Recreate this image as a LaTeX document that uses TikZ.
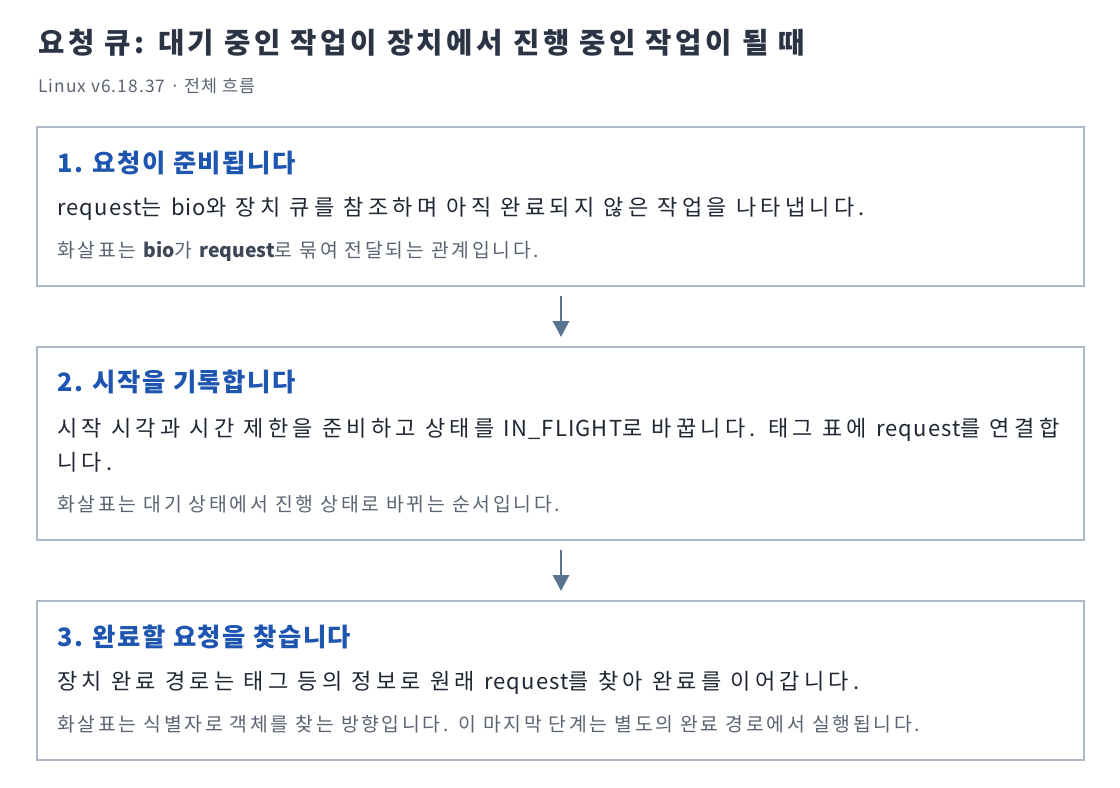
\documentclass[tikz,border=0pt]{standalone}
\usepackage{fontspec}
\setmainfont{Noto Sans CJK KR}
\usetikzlibrary{arrows.meta}
\definecolor{titlec}{HTML}{2B3445}
\definecolor{headc}{HTML}{1D55B0}
\definecolor{bodyc}{HTML}{1F2733}
\definecolor{notec}{HTML}{5B6472}
\definecolor{notebc}{HTML}{3C4657}
\definecolor{boxc}{HTML}{AEB9C7}
\definecolor{arrc}{HTML}{5A7391}
\newcommand{\nols}[1]{{\addfontfeature{LetterSpace=0}#1}}
\newcommand{\lat}[1]{{\addfontfeature{LetterSpace=5}#1}}
\tikzset{
  title/.style={anchor=base west, inner sep=0pt, text=titlec, font=\fontsize{21.5pt}{26pt}\selectfont\bfseries\addfontfeature{LetterSpace=12.3}},
  subtitle/.style={anchor=base west, inner sep=0pt, text=notec, font=\fontsize{13pt}{16pt}\selectfont\addfontfeature{LetterSpace=6}},
  stepbox/.style={draw=boxc, line width=0.9pt, fill=white},
  head/.style={anchor=base west, inner sep=0pt, text=headc, font=\fontsize{19pt}{23pt}\selectfont\bfseries\addfontfeature{LetterSpace=6}},
  body/.style={anchor=base west, inner sep=0pt, text=bodyc, font=\fontsize{16.5pt}{20pt}\selectfont\addfontfeature{LetterSpace=19.5}},
  note/.style={anchor=base west, inner sep=0pt, text=notec, font=\fontsize{14.5pt}{17pt}\selectfont\addfontfeature{LetterSpace=14}},
  flow/.style={draw=arrc, line width=2.2pt, -{Triangle[length=12pt,width=12pt]}},
}
\begin{document}
\begin{tikzpicture}[x=0.75pt,y=-0.75pt]
\useasboundingbox (0,0) rectangle (1120,788);
\fill[white] (0,0) rectangle (1120,788);
\node[title] (t) at (38,54) {요청 큐: 대기 중인 작업이 장치에서 진행 중인 작업이 될 때};
\node[subtitle] (st) at (38,93) {Linux v6.18.37 · 전체 흐름};

\draw[stepbox] (37,127) rectangle (1084,286);
\node[head] (h1) at (57,172) {1. 요청이 준비됩니다};
\node[body] (d1) at (57,215) {\lat{request}는 \lat{bio}와 장치 큐를 참조하며 아직 완료되지 않은 작업을 나타냅니다.};
\node[note] (n1) at (57,257) {화살표는 {\color{notebc}\bfseries\nols{bio}}가 {\color{notebc}\bfseries\nols{request}}로 묶여 전달되는 관계입니다.};

\draw[stepbox] (37,347) rectangle (1084,540);
\node[head] (h2) at (57,391) {2. 시작을 기록합니다};
\node[body] (d2) at (57,436) {시작 시각과 시간 제한을 준비하고 상태를 \lat{IN\_FLIGHT}로 바꿉니다. 태그 표에 \lat{request}를 연결합};
\node[body] (d2b) at (57,470) {니다.};
\node[note] (n2) at (57,511) {화살표는 대기 상태에서 진행 상태로 바뀌는 순서입니다.};

\draw[stepbox] (37,601) rectangle (1084,760);
\node[head] (h3) at (57,646) {3. 완료할 요청을 찾습니다};
\node[body] (d3) at (57,689) {장치 완료 경로는 태그 등의 정보로 원래 \lat{request}를 찾아 완료를 이어갑니다.};
\node[note] (n3) at (57,731) {화살표는 식별자로 객체를 찾는 방향입니다. 이 마지막 단계는 별도의 완료 경로에서 실행됩니다.};

\coordinate (a1s) at (561,296);
\coordinate (a1e) at (561,337);
\coordinate (a2s) at (561,550);
\coordinate (a2e) at (561,591);
\draw[flow] (a1s) -- (a1e);
\draw[flow] (a2s) -- (a2e);
\end{tikzpicture}
\end{document}
